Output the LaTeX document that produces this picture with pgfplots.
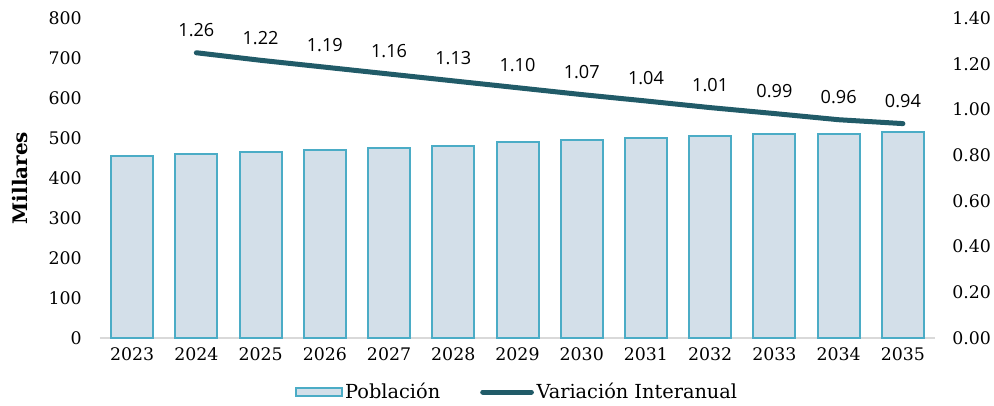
\documentclass[border=0pt]{standalone}
\usepackage{fontspec}
\setmainfont{DejaVu Serif}
\newfontfamily\labfont{Open Sans}
\usepackage{pgfplots}
\pgfplotsset{compat=1.18}
\definecolor{barfill}{HTML}{D3DFE9}
\definecolor{baredge}{HTML}{4BACC6}
\definecolor{linec}{HTML}{215B68}
\definecolor{axisgray}{HTML}{D9D9D9}
\begin{document}
\begin{tikzpicture}
\begin{axis}[
  scale only axis, width=626.25pt, height=240pt,
  xmin=-0.5, xmax=12.5, ymin=0, ymax=800,
  axis x line*=bottom, axis y line*=left,
  x axis line style={-, draw=axisgray, line width=1.5pt},
  y axis line style={draw=none},
  xtick={0,...,12},
  xticklabels={2023,2024,2025,2026,2027,2028,2029,2030,2031,2032,2033,2034,2035},
  ytick={0,100,...,800},
  major tick length=0pt,
  tick label style={font=\fontsize{13}{13}\selectfont},
  /pgf/number format/assume math mode=true,
  xticklabel style={anchor=north, inner sep=0pt, yshift=-6.75pt},
  yticklabel style={anchor=east, inner sep=0pt, xshift=-13.5pt},
  ylabel={\textbf{Millares}},
  every axis y label/.style={at={(axis description cs:-0.096,0.5)}, rotate=90, anchor=center, font=\fontsize{15}{15}\selectfont},
  clip=false,
]
\addplot[ybar, bar width=31.5pt, fill=barfill, draw=baredge, line width=1.5pt]
  coordinates {(0,455) (1,460) (2,465) (3,470) (4,475) (5,480) (6,490) (7,495) (8,500) (9,506) (10,511) (11,511) (12,515)};
\end{axis}
\begin{axis}[
  scale only axis, width=626.25pt, height=240pt,
  xmin=-0.5, xmax=12.5, ymin=0, ymax=1.40,
  axis x line=none, axis y line*=right,
  y axis line style={draw=none},
  ytick={0,0.2,...,1.41},
  major tick length=0pt,
  yticklabel={\pgfmathprintnumber[fixed, fixed zerofill, precision=2]{\tick}},
  tick label style={font=\fontsize{13}{13}\selectfont},
  /pgf/number format/assume math mode=true,
  yticklabel style={anchor=west, inner sep=0pt, xshift=12.75pt},
  clip=false,
  legend style={at={(0.5,-0.169)}, anchor=center, draw=none, fill=none,
    legend columns=2, font=\fontsize{14.5}{14.5}\selectfont,
    /tikz/every even column/.append style={column sep=28pt}},
]
\addlegendimage{legend image code/.code={\draw[fill=barfill, draw=baredge, line width=1.5pt] (0pt,-3pt) rectangle (34pt,3pt);}}
\addlegendentry{Población}
\addlegendimage{legend image code/.code={\draw[linec, line width=3.75pt, line cap=round] (1.5pt,0pt) -- (38pt,0pt);}}
\addlegendentry{Variación Interanual}
\addplot[linec, line width=3.75pt, line cap=round, line join=round,
  nodes near coords, point meta=explicit symbolic,
  every node near coord/.append style={font=\labfont\fontsize{13.6}{13.6}\selectfont, color=black, anchor=south, inner sep=0pt, yshift=10pt}]
  coordinates {(1,1.248)[1.26] (2,1.215)[1.22] (3,1.185)[1.19] (4,1.155)[1.16] (5,1.125)[1.13] (6,1.095)[1.10] (7,1.065)[1.07] (8,1.037)[1.04] (9,1.008)[1.01] (10,0.982)[0.99] (11,0.955)[0.96] (12,0.938)[0.94]};
\end{axis}
\pgfresetboundingbox
\path[use as bounding box] (-75pt,-50.25pt) rectangle (670.5pt,253.5pt);
\end{tikzpicture}
\end{document}
